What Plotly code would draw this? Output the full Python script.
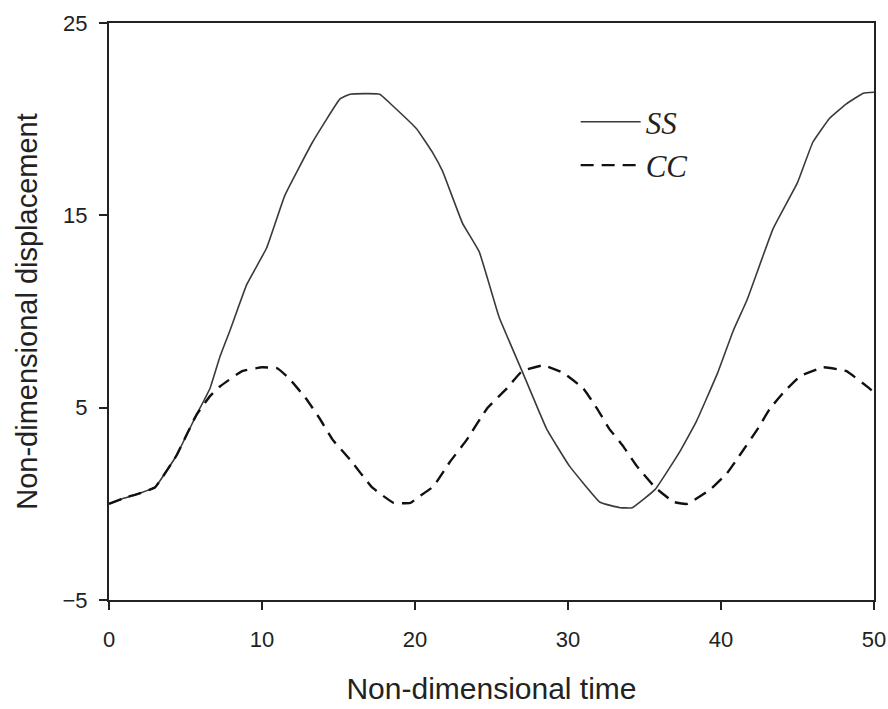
import plotly.graph_objects as go

# Non-dimensional time samples and displacement values
t_ss = [0, 1, 2, 3, 4.4, 5.7, 6.6, 7.25, 7.9, 9.0, 10.3, 11.5, 13.3, 15.1, 15.75, 17.7,
        18.4, 20.1, 21.2, 21.8, 23.1, 24.2, 25.5, 27.0, 28.6, 30.1, 32.1, 33.4, 34.2,
        35.7, 37.3, 38.4, 39.8, 40.8, 41.7, 43.4, 45.0, 46.0, 47.1, 48.2, 49.3, 50]
v_ss = [0, 0.3, 0.55, 0.85, 2.5, 4.6, 6.0, 7.65, 9.0, 11.4, 13.3, 16.05, 18.8, 21.05, 21.3, 21.3,
        20.8, 19.5, 18.2, 17.3, 14.6, 13.1, 9.7, 6.9, 3.9, 1.96, 0.08, -0.2, -0.2,
        0.75, 2.7, 4.3, 6.85, 9.0, 10.6, 14.3, 16.7, 18.8, 20.05, 20.8, 21.35, 21.4]

t_cc = [0, 1, 2, 3, 4.4, 5.7, 6.6, 7.25, 8.7, 10.0, 11.0, 11.8, 12.9, 13.8, 14.6, 15.75,
        17.2, 18.6, 19.7, 20.3, 21.2, 22.3, 23.4, 24.7, 26.0, 27.0, 28.4, 29.7, 31.0,
        31.9, 32.7, 33.6, 34.5, 35.7, 36.9, 37.8, 39.3, 40.4, 41.2, 42.4, 43.2, 44.1,
        45.2, 46.7, 48.2, 49.7, 50]
v_cc = [0, 0.3, 0.55, 0.85, 2.5, 4.6, 5.6, 6.1, 6.9, 7.1, 7.05, 6.5, 5.45, 4.4, 3.35, 2.3,
        0.85, 0.05, 0.05, 0.4, 0.9, 2.2, 3.35, 4.95, 6.0, 6.9, 7.2, 6.8, 6.0,
        4.95, 3.9, 3.0, 1.96, 0.85, 0.1, 0.0, 0.75, 1.6, 2.5, 3.9, 4.95, 5.8,
        6.65, 7.1, 6.9, 6.0, 5.8]

x_ticks = [0, 10, 20, 30, 40, 50]
y_ticks = [-5, 5, 15, 25]

fig = go.Figure()
fig.add_trace(go.Scatter(x=t_ss, y=v_ss, mode="lines", name="<i>SS</i>",
                         line=dict(color="#3a3a3a", width=1.6, shape="spline", smoothing=0.3)))
fig.add_trace(go.Scatter(x=t_cc, y=v_cc, mode="lines", name="<i>CC</i>",
                         line=dict(color="#111111", width=2.4, dash="13px,8px", shape="spline", smoothing=0.3)))

axis_font = dict(family="Liberation Sans", size=22, color="#222222")
fig.update_layout(
    width=888, height=709,
    margin=dict(l=109, r=14, t=23, b=109),
    paper_bgcolor="white", plot_bgcolor="white",
    showlegend=True,
    legend=dict(x=0.61, y=0.875, xanchor="left", yanchor="top",
                bgcolor="rgba(0,0,0,0)", borderwidth=0,
                font=dict(family="Liberation Serif", size=31, color="#222222"),
                tracegroupgap=0, itemwidth=60),
    xaxis=dict(range=[0, 50], tickvals=x_ticks, ticks="outside", ticklen=8, tickwidth=2,
               tickcolor="#222222", showgrid=False, zeroline=False,
               showline=True, linecolor="#222222", linewidth=2, mirror=True,
               tickfont=axis_font, ticklabelstandoff=11, automargin=False,
               title=dict(text="Non-dimensional time", standoff=27,
                          font=dict(family="Liberation Sans", size=30, color="#222222"))),
    yaxis=dict(range=[-5, 25], tickvals=y_ticks, ticks="outside", ticklen=8, tickwidth=2,
               tickcolor="#222222", showgrid=False, zeroline=False,
               showline=True, linecolor="#222222", linewidth=2, mirror=True,
               tickfont=axis_font, ticklabelstandoff=7, automargin=False,
               title=dict(text="Non-dimensional displacement", standoff=16,
                          font=dict(family="Liberation Sans", size=29, color="#222222"))),
)

fig.write_html("out.html")
